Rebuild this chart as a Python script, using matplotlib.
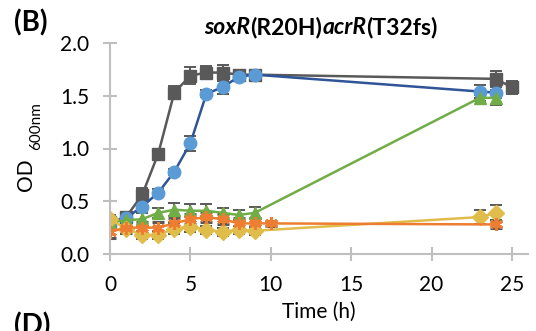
import numpy as np
import matplotlib
matplotlib.use("Agg")
import matplotlib.pyplot as plt
from matplotlib.offsetbox import TextArea, HPacker, AnnotationBbox

plt.rcParams['font.family'] = ['Lato', 'DejaVu Sans']

# growth curves, OD600 vs time (h)
t_gray = [0, 1, 2, 3, 4, 5, 6, 7, 8, 9, 24, 25]
od_gray = [0.30, 0.35, 0.56, 0.95, 1.53, 1.69, 1.72, 1.72, 1.70, 1.70, 1.66, 1.58]
err_gray = [0.05, 0.05, 0.07, 0.03, 0.06, 0.08, 0.06, 0.07, 0.04, 0.03, 0.07, 0.06]

t_blue = [0, 1, 2, 3, 4, 5, 6, 7, 8, 9, 23, 24]
od_blue = [0.30, 0.34, 0.45, 0.58, 0.78, 1.05, 1.52, 1.58, 1.68, 1.70, 1.54, 1.53]
err_blue = [0.03, 0.03, 0.04, 0.04, 0.03, 0.07, 0.03, 0.06, 0.03, 0.03, 0.06, 0.05]

t_green = [0, 1, 2, 3, 4, 5, 6, 7, 8, 9, 23, 24]
od_green = [0.30, 0.32, 0.33, 0.39, 0.42, 0.41, 0.41, 0.39, 0.37, 0.39, 1.48, 1.48]
err_green = [0.05, 0.04, 0.06, 0.05, 0.06, 0.06, 0.06, 0.05, 0.05, 0.06, 0.03, 0.07]

t_yellow = [0, 1, 2, 3, 4, 5, 6, 7, 8, 9, 23, 24]
od_yellow = [0.33, 0.24, 0.18, 0.18, 0.24, 0.26, 0.23, 0.21, 0.23, 0.22, 0.35, 0.39]
err_yellow = [0.04, 0.05, 0.04, 0.04, 0.05, 0.05, 0.04, 0.04, 0.04, 0.04, 0.07, 0.07]

t_orange = [0, 1, 2, 3, 4, 5, 6, 7, 8, 9, 10, 24]
od_orange = [0.21, 0.25, 0.25, 0.25, 0.29, 0.33, 0.35, 0.33, 0.29, 0.29, 0.29, 0.28]
err_orange = [0.06, 0.05, 0.05, 0.05, 0.05, 0.05, 0.05, 0.05, 0.05, 0.05, 0.02, 0.03]

fig = plt.figure(figsize=(5.36, 3.31), dpi=100)
ax = fig.add_axes([110/536, 1-254/331, 418/536, 211/331])

ebar = dict(ecolor='#595959', elinewidth=1.4, capsize=4, capthick=1.4, lw=1.8, ms=9)

ax.errorbar(t_gray, od_gray, yerr=err_gray, color='#595959', marker='s', **ebar)
ax.errorbar(t_blue, od_blue, yerr=err_blue, color='#2F5597', marker='o',
            mfc='#5B9BD5', mec='#5B9BD5', **ebar)
ax.errorbar(t_green, od_green, yerr=err_green, color='#70AD47', marker='^', **ebar)
ax.errorbar(t_yellow, od_yellow, yerr=err_yellow, color='#E0BC4A', marker='D',
            **dict(ebar, ms=8))
ax.errorbar(t_orange, od_orange, yerr=err_orange, color='#ED7D31', marker=(6, 2, 0),
            mew=2.2, **ebar)

ax.set_xlim(0, 26)
ax.set_ylim(0, 2.0)
ax.set_xticks([0, 5, 10, 15, 20, 25])
ax.set_yticks([0.0, 0.5, 1.0, 1.5, 2.0])
ax.yaxis.set_major_formatter(matplotlib.ticker.FormatStrFormatter('%.1f'))

for s in ['top', 'right']:
    ax.spines[s].set_visible(False)
for s in ['left', 'bottom']:
    ax.spines[s].set_color('#BFBFBF')
    ax.spines[s].set_linewidth(1.5)
ax.tick_params(direction='inout', length=10, width=1.5, color='#BFBFBF',
               labelsize=15, labelcolor='black', pad=10)

ax.set_xlabel('Time (h)', fontsize=15, labelpad=5)

# y label with subscript
fig.text(26/536, 1-175/331, 'OD', rotation=90, fontsize=15, ha='center', va='center')
fig.text(36/536, 1-126/331, '600nm', rotation=90, fontsize=11, ha='center', va='center')

# title with mixed italic
parts = [('soxR', 'italic'), ('(R20H)', 'normal'), ('acrR', 'italic'), ('(T32fs)', 'normal')]
boxes = [TextArea(s, textprops=dict(fontsize=16.5, fontweight='bold', style=st))
         for s, st in parts]
pack = HPacker(children=boxes, align='baseline', pad=0, sep=0)
ab = AnnotationBbox(pack, (321/536, 1-27/331), xycoords='figure fraction',
                    frameon=False, box_alignment=(0.5, 0.5))
fig.add_artist(ab)

fig.text(14/536, 1-23/331, '(B)', fontsize=20, fontweight='bold', va='center')
fig.text(14/536, 1-312/331, '(D)', fontsize=20, fontweight='bold', va='top')

fig.savefig('out.png', dpi=100)
